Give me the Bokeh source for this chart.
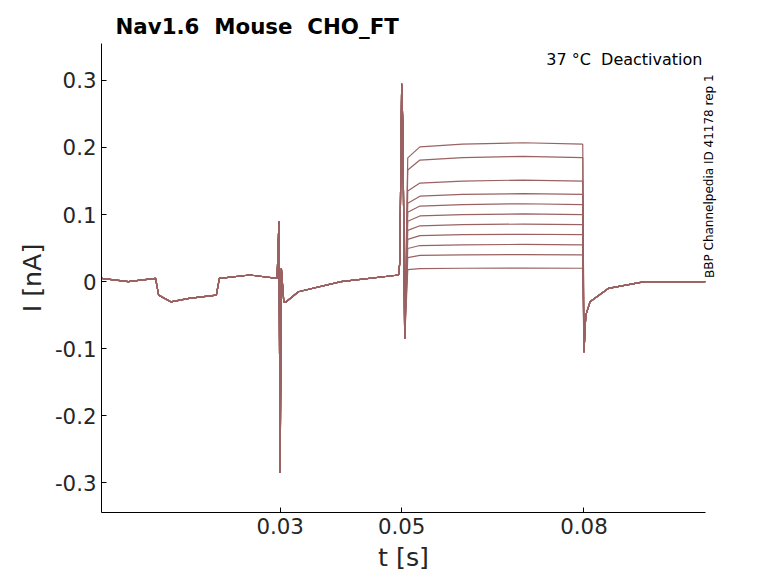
from bokeh.plotting import figure
from bokeh.embed import file_html
from bokeh.resources import INLINE
from bokeh.models import Range1d, Label, FixedTicker, LinearAxis

t_pts = [0.0006, 0.005, 0.0095, 0.0100, 0.012, 0.015, 0.0195, 0.0200, 0.025, 0.0295,
         0.0298, 0.0300, 0.0302, 0.0306, 0.031, 0.033, 0.04, 0.0495, 0.0497, 0.0500,
         0.0502, 0.0505, 0.051, 0.053, 0.06, 0.07, 0.0798, 0.0800, 0.0803, 0.081,
         0.084, 0.09, 0.1]
pre = [0.005, 0.0, 0.005, -0.02, -0.03, -0.025, -0.02, 0.005, 0.01, 0.005,
       0.09, -0.285, 0.02, -0.03, -0.03, -0.015, 0.0, 0.01, 0.03, 0.295,
       0.23, -0.085]
levels = [0.205, 0.185, 0.15, 0.13, 0.115, 0.10, 0.085, 0.07, 0.055, 0.04, 0.02]
post = [-0.105, -0.05, -0.03, -0.01, 0.0, 0.0]
yticks = [-0.3, -0.2, -0.1, 0, 0.1, 0.2, 0.3]
ytick_labels = ["-0.3", "-0.2", "-0.1", "0", "0.1", "0.2", "0.3"]
xticks = [0.03, 0.05, 0.08]
xtick_labels = ["0.03", "0.05", "0.08"]

p = figure(width=770, height=575, output_backend="svg", toolbar_location=None,
           min_border_left=101, min_border_right=65, min_border_top=43, min_border_bottom=63)
p.x_range = Range1d(0.0006, 0.1)
p.y_range = Range1d(-0.344, 0.355)
for L in levels:
    ys = pre + [L * 0.9, L * 0.98, L, L * 1.01, L] + post
    p.line(t_pts, ys, line_color="#9a6262", line_width=1.2)

p.title.text = "Nav1.6\u00a0\u00a0Mouse\u00a0\u00a0CHO_FT"
p.title.text_font = "DejaVu Sans"
p.title.text_font_size = "16pt"
p.title.text_color = "black"
p.title.offset = 14
p.xaxis.axis_label = "t [s]"
p.yaxis.axis_label = "I [nA]"
for ax in (p.xaxis, p.yaxis):
    ax.axis_label_text_font = "DejaVu Sans"
    ax.axis_label_text_font_style = "normal"
    ax.axis_label_text_font_size = "19pt"
    ax.axis_label_text_color = "#262626"
    ax.major_label_text_font = "DejaVu Sans"
    ax.major_label_text_font_size = "16pt"
    ax.major_label_text_color = "#262626"
    ax.minor_tick_line_color = None
    ax.major_tick_in = 5
    ax.major_tick_out = 0
p.xaxis.ticker = FixedTicker(ticks=xticks)
p.xaxis.major_label_overrides = dict(zip(xticks, xtick_labels))
p.yaxis.ticker = FixedTicker(ticks=yticks)
p.yaxis.major_label_overrides = dict(zip(yticks, ytick_labels))
p.xgrid.visible = False
p.ygrid.visible = False
p.outline_line_color = None
p.add_layout(Label(x=0.0995, y=0.355, text="37 °C\u00a0\u00a0Deactivation", text_align="right",
                   text_baseline="top", y_offset=-6, text_font="DejaVu Sans", text_font_size="12pt",
                   text_color="black"))
ra = LinearAxis(axis_label="BBP Channelpedia ID 41178 rep 1", ticker=FixedTicker(ticks=[]),
                bounds=(-0.344, 0.0),
                axis_line_color=None, major_tick_line_color=None, minor_tick_line_color=None,
                axis_label_text_font="DejaVu Sans", axis_label_text_font_size="9pt",
                axis_label_text_font_style="normal", axis_label_text_color="black",
                axis_label_standoff=4, axis_label_orientation=1.5708)
p.add_layout(ra, "right")
open("out.html", "w").write(file_html(p, INLINE))
